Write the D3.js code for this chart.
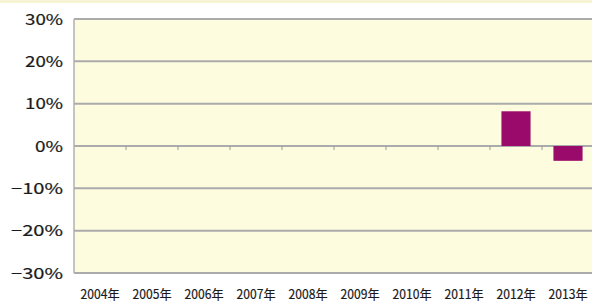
<!DOCTYPE html>
<html>
<head>
<meta charset="utf-8">
<script src="https://cdn.jsdelivr.net/npm/d3@7"></script>
<style>
  body { margin: 0; background: #fff; }
  svg { display: block; }
  .tick text { font-family: "Noto Sans CJK JP", "DejaVu Sans", sans-serif; fill: #1a1a1a; stroke: #1a1a1a; stroke-width: 0.2; }
</style>
</head>
<body>
<svg width="592" height="303"></svg>
<script>
// Chart values.
var years = ["2004年", "2005年", "2006年", "2007年", "2008年", "2009年", "2010年", "2011年", "2012年", "2013年"];
var values = [null, null, null, null, null, null, null, null, 8.2, -3.5];
var yTicks = [-30, -20, -10, 0, 10, 20, 30];

var width = 592, height = 303;
var margin = { top: 19, right: -2, bottom: 30, left: 74 };

var svg = d3.select("svg");

// Faint strip of whatever sits above the chart in the source page.
svg.append("rect")
  .attr("x", 0).attr("y", 0)
  .attr("width", width).attr("height", 3)
  .attr("fill", "#f6f4d4");

var x = d3.scaleBand()
  .domain(years)
  .range([margin.left, width - margin.right])
  .paddingInner(0.44)
  .paddingOuter(0.22);

var y = d3.scaleLinear()
  .domain([-30, 30])
  .range([height - margin.bottom, margin.top]);

// Plot background.
svg.append("rect")
  .attr("x", margin.left)
  .attr("y", y(30))
  .attr("width", width - margin.right - margin.left)
  .attr("height", y(-30) - y(30))
  .attr("fill", "#fdfcdf");

// Gridlines.
svg.append("g").selectAll("line")
  .data(yTicks)
  .enter().append("line")
    .attr("x1", margin.left)
    .attr("x2", width)
    .attr("y1", function(d) { return y(d); })
    .attr("y2", function(d) { return y(d); })
    .attr("stroke", "#ababab")
    .attr("stroke-width", 2);

// Left axis line.
svg.append("line")
  .attr("x1", margin.left).attr("x2", margin.left)
  .attr("y1", y(30)).attr("y2", y(-30))
  .attr("stroke", "#b0b0b0")
  .attr("stroke-width", 1.5);

// Category boundary ticks on the zero line.
var step = x.step();
var bounds = d3.range(1, years.length + 1).map(function(i) { return margin.left + i * step; });
svg.append("g").selectAll("line")
  .data(bounds)
  .enter().append("line")
    .attr("x1", function(d) { return d; })
    .attr("x2", function(d) { return d; })
    .attr("y1", y(0))
    .attr("y2", y(0) + 4)
    .attr("stroke", "#999")
    .attr("stroke-width", 1);

// Bars.
svg.append("g").selectAll("rect")
  .data(years.map(function(d, i) { return { year: d, value: values[i] }; })
    .filter(function(d) { return d.value !== null; }))
  .enter().append("rect")
    .attr("x", function(d) { return x(d.year); })
    .attr("width", x.bandwidth())
    .attr("y", function(d) { return y(Math.max(0, d.value)); })
    .attr("height", function(d) { return Math.abs(y(d.value) - y(0)); })
    .attr("fill", "#9a0a6a");

// Y axis labels (the source glyphs are wide, so stretch them a bit).
var yAxis = svg.append("g")
  .attr("transform", "translate(" + margin.left + ",0)")
  .call(d3.axisLeft(y).tickValues(yTicks).tickSize(0).tickPadding(11)
    .tickFormat(function(d) { return (d < 0 ? "\u2212" + (-d) : d) + "%"; }));
yAxis.select(".domain").remove();
yAxis.selectAll("text")
  .attr("font-size", 15)
  .attr("dy", "0.35em")
  .attr("textLength", function(d) { return d < 0 ? 52 : (d === 0 ? 28 : 38); })
  .attr("lengthAdjust", "spacingAndGlyphs");

// X axis labels (narrow, tall glyphs in the source).
var xAxis = svg.append("g")
  .attr("transform", "translate(0," + (height - 4) + ")")
  .call(d3.axisBottom(x).tickSize(0).tickPadding(0));
xAxis.select(".domain").remove();
xAxis.selectAll("text")
  .attr("font-size", 13)
  .attr("dy", "0")
  .attr("y", 0)
  .attr("textLength", 39)
  .attr("lengthAdjust", "spacingAndGlyphs");
</script>
</body>
</html>
